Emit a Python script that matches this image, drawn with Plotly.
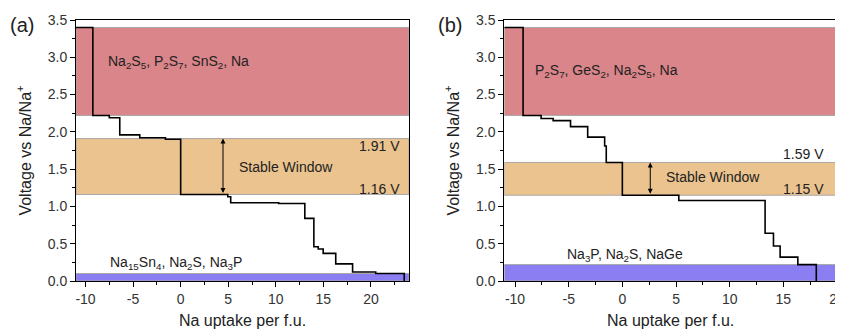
import plotly.graph_objects as go

# ---------- data ----------
# panel (a)
a_x = [-11, -9.23, -7.5, -6.4, -4.3, -1.6, 0.0, 4.95, 5.26, 10.3, 13.05, 14.0, 14.46, 14.98, 16.3, 18.07, 20.5, 23.5]
a_y = [3.40, 2.22, 2.19, 1.96, 1.92, 1.90, 1.16, 1.13, 1.05, 1.04, 0.84, 0.46, 0.43, 0.37, 0.23, 0.12, 0.10, 0.0]
a_red = [2.22, 3.40]
a_orange = [1.16, 1.91]
a_blue = [0.0, 0.10]
a_arrow_x = 4.45
a_labels = ["1.91 V", "1.16 V"]
a_top_text = "Na<sub>2</sub>S<sub>5</sub>, P<sub>2</sub>S<sub>7</sub>, SnS<sub>2</sub>, Na"
a_bot_text = "Na<sub>15</sub>Sn<sub>4</sub>, Na<sub>2</sub>S, Na<sub>3</sub>P"
a_xrange = [-11, 24]

# panel (b)
b_x = [-11, -9.25, -7.57, -6.45, -4.83, -3.23, -1.65, -1.5, 0.0, 5.26, 13.3, 14.08, 14.7, 16.35, 18.07]
b_y = [3.40, 2.22, 2.18, 2.15, 2.07, 1.93, 1.81, 1.59, 1.15, 1.08, 0.64, 0.47, 0.32, 0.22, 0.0]
b_red = [2.22, 3.40]
b_orange = [1.15, 1.59]
b_blue = [0.0, 0.22]
b_arrow_x = 2.6
b_labels = ["1.59 V", "1.15 V"]
b_top_text = "P<sub>2</sub>S<sub>7</sub>, GeS<sub>2</sub>, Na<sub>2</sub>S<sub>5</sub>, Na"
b_bot_text = "Na<sub>3</sub>P, Na<sub>2</sub>S, NaGe"
b_xrange = [-11, 20]

y_range = [0, 3.5]
x_ticks = [-10, -5, 0, 5, 10, 15, 20]
x_ticktext = ["-10", "-5", "0", "5", "10", "15", "20"]
y_ticks = [0.0, 0.5, 1.0, 1.5, 2.0, 2.5, 3.0, 3.5]
y_ticktext = ["0.0", "0.5", "1.0", "1.5", "2.0", "2.5", "3.0", "3.5"]

RED = "#d98589"
ORANGE = "#ebc38e"
BLUE = "#8a7ef2"
FONT = "Liberation Sans, Arial, sans-serif"
TXT = "#222222"

# page body has an 8px default margin; size the figure to fit the window
OFF = 8
W, H = 843 - OFF, 329 - OFF

fig = go.Figure()

panels = [
    dict(x=a_x, y=a_y, red=a_red, orange=a_orange, blue=a_blue, ax=a_arrow_x, labels=a_labels,
         top=a_top_text, bot=a_bot_text, xr=a_xrange, xa="x", ya="y",
         dom=[(76 - OFF) / W, (409 - OFF) / W],
         top_pos=(-7.7, 2.94), bot_pos=(-7.5, 0.24), sw_pos=(11.1, 1.53), lab_x=23.2, lab_y=(1.81, 1.24),
         tag="(a)", tag_x=0.0),
    dict(x=b_x, y=b_y, red=b_red, orange=b_orange, blue=b_blue, ax=b_arrow_x, labels=b_labels,
         top=b_top_text, bot=b_bot_text, xr=b_xrange, xa="x2", ya="y2",
         dom=[(504.3 - OFF) / W, (837 - OFF) / W],
         top_pos=(-8.2, 2.81), bot_pos=(-5.25, 0.35), sw_pos=(8.4, 1.40), lab_x=18.9, lab_y=(1.70, 1.24),
         tag="(b)", tag_x=(436 - OFF) / W),
]

for i, p in enumerate(panels):
    xref, yref = p["xa"], p["ya"]
    for band, col in [(p["red"], RED), (p["orange"], ORANGE), (p["blue"], BLUE)]:
        fig.add_shape(type="rect", xref=xref, yref=yref, x0=p["xr"][0], x1=p["xr"][1],
                      y0=band[0], y1=band[1], fillcolor=col, line=dict(color="#a8a8a8", width=1),
                      layer="below")
    fig.add_trace(go.Scatter(x=p["x"], y=p["y"], mode="lines", line=dict(color="black", width=1.6, shape="hv"),
                             xaxis=xref, yaxis=yref, showlegend=False, hoverinfo="skip"))
    # double-headed arrow spanning the stable window
    fig.add_annotation(x=p["ax"], y=p["orange"][1], ax=p["ax"], ay=p["orange"][0], xref=xref, yref=yref,
                       axref=xref, ayref=yref, showarrow=True, arrowhead=2, startarrowhead=2,
                       arrowside="end+start", arrowsize=1, arrowwidth=1, arrowcolor="black", text="")
    fig.add_annotation(x=p["sw_pos"][0], y=p["sw_pos"][1], xref=xref, yref=yref, text="Stable Window",
                       showarrow=False, font=dict(size=14, color=TXT, family=FONT))
    for lab, ly in zip(p["labels"], p["lab_y"]):
        fig.add_annotation(x=p["lab_x"], y=ly, xref=xref, yref=yref,
                           text=lab, showarrow=False, xanchor="right", align="right", borderpad=0,
                           font=dict(size=14, color=TXT, family=FONT))
    fig.add_annotation(x=p["top_pos"][0], y=p["top_pos"][1], xref=xref, yref=yref, text=p["top"],
                       showarrow=False, xanchor="left", align="left", borderpad=0,
                       font=dict(size=14, color=TXT, family=FONT))
    fig.add_annotation(x=p["bot_pos"][0], y=p["bot_pos"][1], xref=xref, yref=yref, text=p["bot"],
                       showarrow=False, xanchor="left", align="left", borderpad=0,
                       font=dict(size=14, color=TXT, family=FONT))
    fig.add_annotation(x=p["tag_x"], y=1 - (25 - OFF) / H, xref="paper", yref="paper", text=p["tag"],
                       showarrow=False, xanchor="left", yanchor="middle",
                       font=dict(size=20, color=TXT, family=FONT))

axis_common = dict(showline=True, linecolor="black", linewidth=1, mirror=True, ticks="outside",
                   ticklen=5, tickcolor="black", showgrid=False, zeroline=False, automargin=False,
                   tickfont=dict(size=14, color="#333333", family=FONT))

ydom = [1 - (281 - OFF) / H, 1 - (20 - OFF) / H]
for i, p in enumerate(panels):
    sx = "" if i == 0 else "2"
    fig.update_layout(**{
        f"xaxis{sx}": dict(domain=p["dom"], range=p["xr"], anchor=p["ya"], tickmode="array",
                           tickvals=x_ticks, ticktext=x_ticktext, ticklabeloverflow="allow",
                           minor=dict(ticks="outside", dtick=2.5, tick0=0, ticklen=3, tickcolor="black"),
                           title=dict(text="Na uptake per f.u.", standoff=9,
                                      font=dict(size=16, color=TXT, family=FONT)),
                           **axis_common),
        f"yaxis{sx}": dict(domain=ydom, range=y_range, anchor=p["xa"], tickmode="array",
                           tickvals=y_ticks, ticktext=y_ticktext,
                           minor=dict(ticks="outside", dtick=0.25, tick0=0, ticklen=3, tickcolor="black"),
                           title=dict(text="Voltage vs Na/Na<sup>+</sup>", standoff=12,
                                      font=dict(size=16, color=TXT, family=FONT)),
                           **axis_common),
    })

fig.update_layout(width=W, height=H, margin=dict(l=0, r=0, t=0, b=0),
                  paper_bgcolor="white", plot_bgcolor="white")

fig.write_html("out.html")
